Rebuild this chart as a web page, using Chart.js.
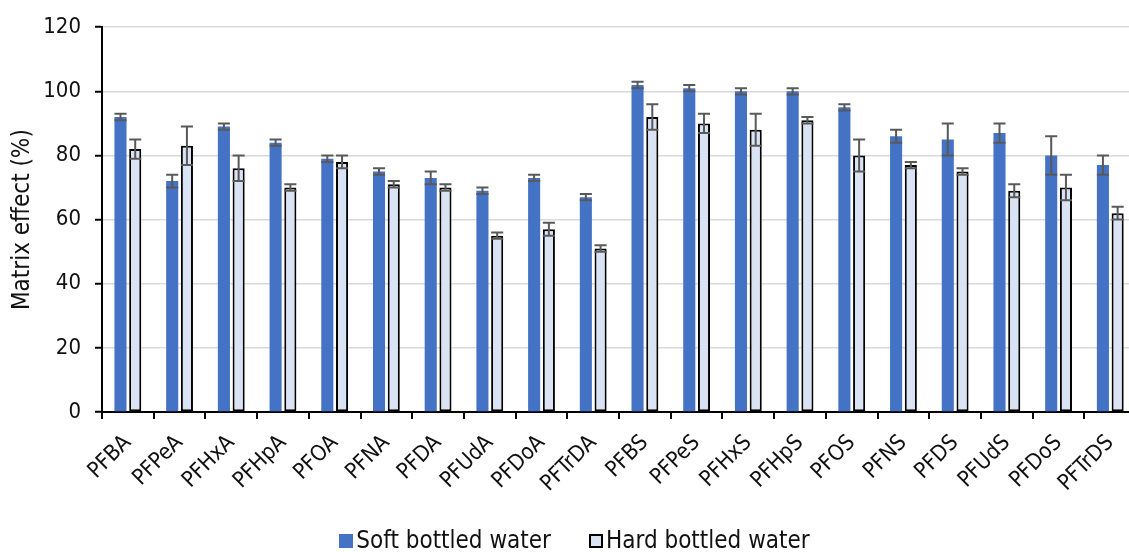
<!DOCTYPE html>
<html>
<head>
<meta charset="utf-8">
<script src="https://cdn.jsdelivr.net/npm/chart.js@4.4.1/dist/chart.umd.min.js"></script>
<style>
  html, body { margin: 0; padding: 0; overflow: hidden; background: #fff; }
  #wrap { position: relative; width: 1140px; height: 552px; }
  #legend {
    position: absolute; left: 0; top: 526px; width: 1149px;
    display: flex; justify-content: center; align-items: center;
    font-family: 'DejaVu Sans Condensed', 'DejaVu Sans', sans-serif;
    font-size: 24px; color: #111; line-height: 28px;
  }
  .leg-item { display: flex; align-items: center; margin: 0 19px; }
  .leg-box { width: 14px; height: 14px; box-sizing: border-box; margin-right: 3px; position: relative; top: 1px; }
</style>
</head>
<body>
<div id="wrap">
  <canvas id="matrixChart" width="1140" height="552"></canvas>
  <div id="legend"></div>
</div>
<script>
const categories = ['PFBA', 'PFPeA', 'PFHxA', 'PFHpA', 'PFOA', 'PFNA', 'PFDA', 'PFUdA', 'PFDoA', 'PFTrDA',
  'PFBS', 'PFPeS', 'PFHxS', 'PFHpS', 'PFOS', 'PFNS', 'PFDS', 'PFUdS', 'PFDoS', 'PFTrDS'];
const softValues = [92, 72, 89, 84, 79, 75, 73, 69, 73, 67, 102, 101, 100, 100, 95, 86, 85, 87, 80, 77];
const softErrors = [1, 2, 1, 1, 1, 1, 2, 1, 1, 1, 1, 1, 1, 1, 1, 2, 5, 3, 6, 3];
const hardValues = [82, 83, 76, 70, 78, 71, 70, 55, 57, 51, 92, 90, 88, 91, 80, 77, 75, 69, 70, 62];
const hardErrors = [3, 6, 4, 1, 2, 1, 1, 1, 2, 1, 4, 3, 5, 1, 5, 1, 1, 2, 4, 2];
const yTicks = [0, 20, 40, 60, 80, 100, 120];

const FONT = "'DejaVu Sans Condensed', 'DejaVu Sans', sans-serif";
Chart.defaults.font.family = FONT;
Chart.defaults.color = '#111';

// +/- error bars drawn on top of each bar, using the value scale
const errorBars = {
  id: 'errorBars',
  afterDatasetsDraw(chart) {
    const { ctx, scales: { y } } = chart;
    ctx.save();
    ctx.strokeStyle = '#595959';
    ctx.lineWidth = 2;
    chart.data.datasets.forEach((ds, i) => {
      const meta = chart.getDatasetMeta(i);
      meta.data.forEach((bar, j) => {
        const v = ds.data[j], e = ds.errors[j];
        const top = y.getPixelForValue(v + e);
        const bot = y.getPixelForValue(v - e);
        const half = bar.width / 2;
        ctx.beginPath();
        ctx.moveTo(bar.x, top); ctx.lineTo(bar.x, bot);
        ctx.moveTo(bar.x - half, top); ctx.lineTo(bar.x + half, top);
        ctx.moveTo(bar.x - half, bot); ctx.lineTo(bar.x + half, bot);
        ctx.stroke();
      });
    });
    ctx.restore();
  }
};

const chart = new Chart(document.getElementById('matrixChart'), {
  type: 'bar',
  data: {
    labels: categories,
    datasets: [
      {
        label: 'Soft bottled water',
        data: softValues,
        errors: softErrors,
        backgroundColor: '#4472C4',
        borderWidth: 0,
        categoryPercentage: 0.57,
        barPercentage: 0.82
      },
      {
        label: 'Hard bottled water',
        data: hardValues,
        errors: hardErrors,
        backgroundColor: '#DAE3F3',
        borderColor: '#000',
        borderWidth: 2,
        borderSkipped: false,
        categoryPercentage: 0.57,
        barPercentage: 0.82
      }
    ]
  },
  options: {
    responsive: false,
    animation: false,
    layout: { padding: { left: 8, right: 2, top: 26, bottom: 32 } },
    scales: {
      x: {
        grid: { drawOnChartArea: false, color: '#000', lineWidth: 2, tickLength: 7 },
        border: { color: '#000', width: 2 },
        ticks: { font: { size: 22 }, color: '#111', minRotation: 45, maxRotation: 45, padding: 11 },
        afterFit: (scale) => { scale.height = 108; }
      },
      y: {
        min: 0,
        max: 120,
        afterBuildTicks: (scale) => { scale.ticks = yTicks.map(v => ({ value: v })); },
        grid: { color: '#D9D9D9', lineWidth: 1.5, tickColor: '#000', tickWidth: 2, tickLength: 7 },
        border: { color: '#000', width: 2 },
        ticks: { font: { size: 22 }, color: '#111', padding: 14 },
        title: { display: true, text: 'Matrix effect (%)', font: { size: 24 }, color: '#111', padding: 0 },
        afterFit: (scale) => { scale.width = 94; }
      }
    },
    plugins: {
      legend: { display: false },
      tooltip: { enabled: false }
    }
  },
  plugins: [errorBars]
});

// Legend below the plot, built from the datasets
const legendEl = document.getElementById('legend');
chart.data.datasets.forEach(ds => {
  const item = document.createElement('span');
  item.className = 'leg-item';
  const border = ds.borderWidth ? `border:${ds.borderWidth}px solid ${ds.borderColor};` : '';
  item.innerHTML = `<span class="leg-box" style="background:${ds.backgroundColor};${border}"></span>` +
    `<span class="leg-text">${ds.label}</span>`;
  legendEl.appendChild(item);
});
</script>
</body>
</html>
